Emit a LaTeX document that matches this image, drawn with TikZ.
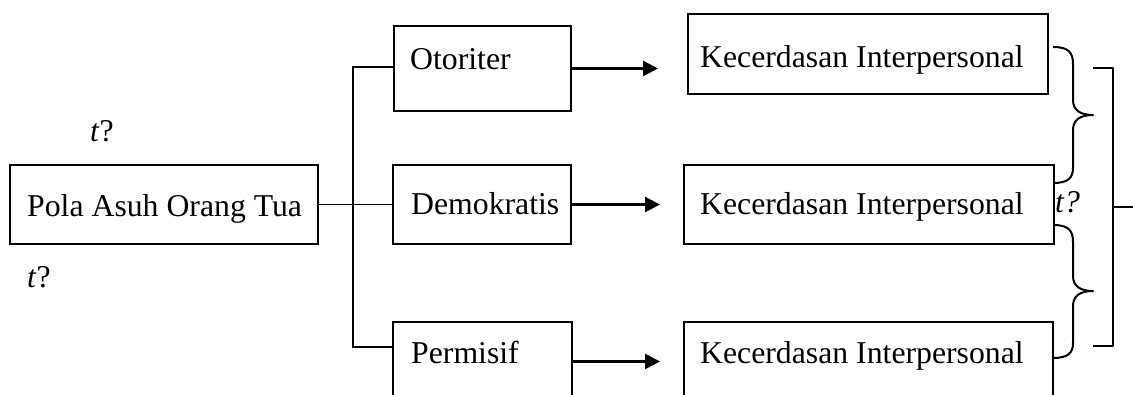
\documentclass[tikz,border=0pt]{standalone}
\usepackage{fontspec}
\setmainfont{Liberation Serif}
\usetikzlibrary{arrows.meta}

\tikzset{
  box/.style={draw, line width=2pt, inner sep=0pt, anchor=north west},
  txt/.style={inner sep=0pt, anchor=base west, font=\fontsize{31.75}{38}\selectfont},
  wire/.style={line width=1.5pt},
  arrow/.style={line width=2.7pt, -{Triangle[length=15pt, width=15pt]}},
  brace/.style={line width=2pt, line join=round}
}

\begin{document}
\begin{tikzpicture}[x=1pt, y=-1pt]
  \clip (0, 0) rectangle (1133, 395);
  \node[box, minimum width=308pt, minimum height=79pt] (pola) at (9, 164) {};
  \node[box, minimum width=177pt, minimum height=85pt] (otoriter) at (393, 25) {};
  \node[box, minimum width=178pt, minimum height=79pt] (demokratis) at (392, 164) {};
  \node[box, minimum width=179pt, minimum height=79pt] (permisif) at (392, 321) {};
  \node[box, minimum width=360pt, minimum height=80pt] (kec1) at (687, 13) {};
  \node[box, minimum width=370pt, minimum height=79pt] (kec2) at (683, 164) {};
  \node[box, minimum width=369pt, minimum height=79pt] (kec3) at (683, 321) {};

  \node[txt] (pola-t) at (27, 217) {Pola Asuh Orang Tua};
  \node[txt] (otoriter-t) at (410, 70) {Otoriter};
  \node[txt] (demokratis-t) at (411, 215) {Demokratis};
  \node[txt] (permisif-t) at (411, 363) {Permisif};
  \node[txt] (kec1-t) at (700, 68) {Kecerdasan Interpersonal};
  \node[txt] (kec2-t) at (700, 215) {Kecerdasan Interpersonal};
  \node[txt] (kec3-t) at (700, 363) {Kecerdasan Interpersonal};
  \node[txt] (tq1) at (90, 142) {\textit{t}?};
  \node[txt] (tq2) at (27, 288) {\textit{t}?};
  \node[txt] (tq3) at (1055, 213) {\textit{t?}};

  \coordinate (split-top) at (353, 67);
  \coordinate (split-bot) at (353, 347);
  \draw[wire] (pola.east) -- (demokratis.west);
  \draw[wire] (split-top -| otoriter.west) -- (split-top) -- (split-bot) -- (split-bot -| permisif.west);

  \draw[arrow, shorten >=29pt] (otoriter.east) -- (otoriter.east -| kec1.west);
  \draw[arrow, shorten >=23pt] (demokratis.east) -- (kec2.west);
  \draw[arrow, shorten >=23pt] (permisif.east) -- (permisif.east -| kec3.west);

  \draw[brace] (1053, 47) .. controls (1068, 47) and (1073, 52) .. (1073, 64) -- (1073, 100)
    .. controls (1073, 110) and (1080, 115) .. (1093, 115)
    .. controls (1080, 115) and (1073, 120) .. (1073, 130) -- (1073, 168)
    .. controls (1073, 178) and (1068, 183) .. (1053, 183);
  \draw[brace] (1053, 225) .. controls (1068, 225) and (1073, 230) .. (1073, 242) -- (1073, 276)
    .. controls (1073, 286) and (1080, 291) .. (1093, 291)
    .. controls (1080, 291) and (1073, 296) .. (1073, 306) -- (1073, 343)
    .. controls (1073, 353) and (1068, 358) .. (1053, 358);

  \coordinate (bracket-out) at (1133, 207);
  \draw[brace] (1093, 68) -- (1113, 68) -- (1113, 346) -- (1093, 346);
  \draw[wire] (1113, 207) -- (bracket-out);
\end{tikzpicture}
\end{document}
